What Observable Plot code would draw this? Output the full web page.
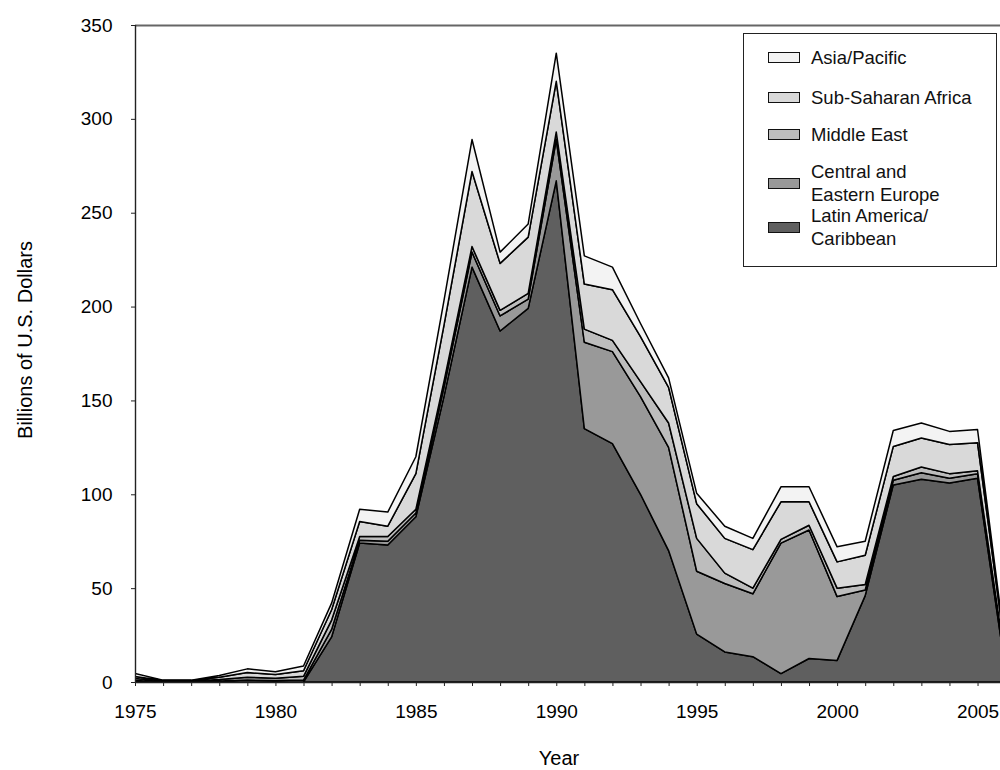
<!DOCTYPE html>
<html><head><meta charset="utf-8">
<script src="https://cdn.jsdelivr.net/npm/d3@7"></script>
<script src="https://cdn.jsdelivr.net/npm/@observablehq/plot@0.6"></script>
<style>
body{margin:0;background:#fff;font-family:"Liberation Sans",Arial,sans-serif;overflow:hidden}
#wrap{position:relative;width:1000px;height:770px;overflow:hidden}
#wrap svg{position:absolute;left:0;top:0}
.ttl{position:absolute;font-size:20px;color:#000;white-space:nowrap}
#legend{position:absolute;left:743px;top:33px;width:252px;height:232px;border:1.5px solid #222;background:#fff}
.item{position:absolute;left:24px;display:flex;align-items:center}
.sw{width:30px;height:9px;border:1.5px solid #111;margin-right:11px;flex:none}
.lab{font-size:18.5px;line-height:23px;color:#111}
</style></head><body><div id="wrap"></div>
<script>
const years = [1975,1976,1977,1978,1979,1980,1981,1982,1983,1984,1985,1986,1987,1988,1989,1990,1991,1992,1993,1994,1995,1996,1997,1998,1999,2000,2001,2002,2003,2004,2005,2006];
const latinAmerica        = [0,0,0,0,0,0,0,24,74,73,88,152,221,187,199,267,135,127,100,70,25.5,16,13.5,4.5,12.5,11.5,46,105,108,106,108.5,6];
const centralEastEurope   = [0.8,0.2,0.2,0.5,1,0.8,1,4,1.5,2,2,5,8,8,5,22,46,49,52,55,33.5,36.5,33.5,69.5,68.5,34,3,2.5,3.5,2.5,2.5,2];
const middleEast          = [1,0.3,0.3,0.8,1.5,1.2,2,5,2,2.5,2,3,3,3,3,4,7,6,8,13,17.5,5.5,3,2,2.5,4.5,3,2,3,2.5,1.5,2];
const subSaharanAfrica    = [1.2,0.3,0.3,1.2,2.5,2,3,5.5,8,5.5,19,30,40,25,30,27,24,27,24,19,18.5,18.5,20.5,20,12.5,14,15.5,16,15.5,15.5,15,5];
const asiaPacific         = [1.5,0.2,0.2,1,2,1.5,2.5,3.5,6.5,7.5,9,13,17,6,7,15,15,12,7,5,5.5,6.5,6,8,8,8,7.5,8.5,8,7,7,2];
const seriesNames = ["Latin America/Caribbean","Central and Eastern Europe","Middle East","Sub-Saharan Africa","Asia/Pacific"];
const seriesValues = [latinAmerica, centralEastEurope, middleEast, subSaharanAfrica, asiaPacific];
const seriesColors = ["#5f5f5f","#999999","#bdbdbd","#d9d9d9","#f3f3f3"];
const yTicks = [0,50,100,150,200,250,300,350];
const xTicks = d3.range(1975, 2006);

const data = seriesNames.flatMap((s,i)=>years.map((y,j)=>({year:y, series:s, value:seriesValues[i][j]})));

const chart = Plot.plot({
  width:1000, height:770, marginTop:25, marginBottom:88, marginLeft:135, marginRight:0,
  style:{fontFamily:'"Liberation Sans",Arial,sans-serif', fontSize:"19px", color:"#000", background:"transparent", overflow:"visible"},
  x:{domain:[1975,2005.8]},
  y:{domain:[0,350]},
  color:{domain:seriesNames, range:seriesColors},
  marks:[
    Plot.areaY(data,{x:"year", y:"value", z:"series", fill:"series", stroke:"#000", strokeWidth:1.5, clip:true}),
    Plot.ruleY([350],{stroke:"#666", strokeWidth:2.2}),
    Plot.ruleX([1975],{stroke:"#222", strokeWidth:1.4}),
    Plot.ruleY([0],{stroke:"#222", strokeWidth:1.4}),
    Plot.axisX({ticks:xTicks, tickFormat:d=>d%5===0?String(d):"", tickSize:4, tickPadding:18, label:null, stroke:"#222"}),
    Plot.axisY({ticks:yTicks, tickFormat:d=>String(d), tickSize:4, tickPadding:19, label:null, stroke:"#222"})
  ]
});
const wrap = document.getElementById("wrap");
wrap.appendChild(chart);

const yt = document.createElement("div");
yt.className="ttl"; yt.textContent="Billions of U.S. Dollars";
yt.style.left="25px"; yt.style.top="340px"; yt.style.transform="translate(-50%,-50%) rotate(-90deg)";
wrap.appendChild(yt);
const xt = document.createElement("div");
xt.className="ttl"; xt.textContent="Year";
xt.style.left="559px"; xt.style.top="758px"; xt.style.transform="translate(-50%,-50%)";
wrap.appendChild(xt);

const legend = document.createElement("div"); legend.id="legend";
const rows = [
  {i:4, top:12, lines:["Asia/Pacific"]},
  {i:3, top:52, lines:["Sub-Saharan Africa"]},
  {i:2, top:89, lines:["Middle East"]},
  {i:1, top:126, lines:["Central and","Eastern Europe"]},
  {i:0, top:170, lines:["Latin America/","Caribbean"]}
];
rows.forEach(r=>{
  const it=document.createElement("div"); it.className="item"; it.style.top=r.top+"px";
  const sw=document.createElement("div"); sw.className="sw"; sw.style.background=seriesColors[r.i];
  const lb=document.createElement("div"); lb.className="lab"; lb.innerHTML=r.lines.join("<br>");
  it.appendChild(sw); it.appendChild(lb); legend.appendChild(it);
});
wrap.appendChild(legend);
</script></body></html>
